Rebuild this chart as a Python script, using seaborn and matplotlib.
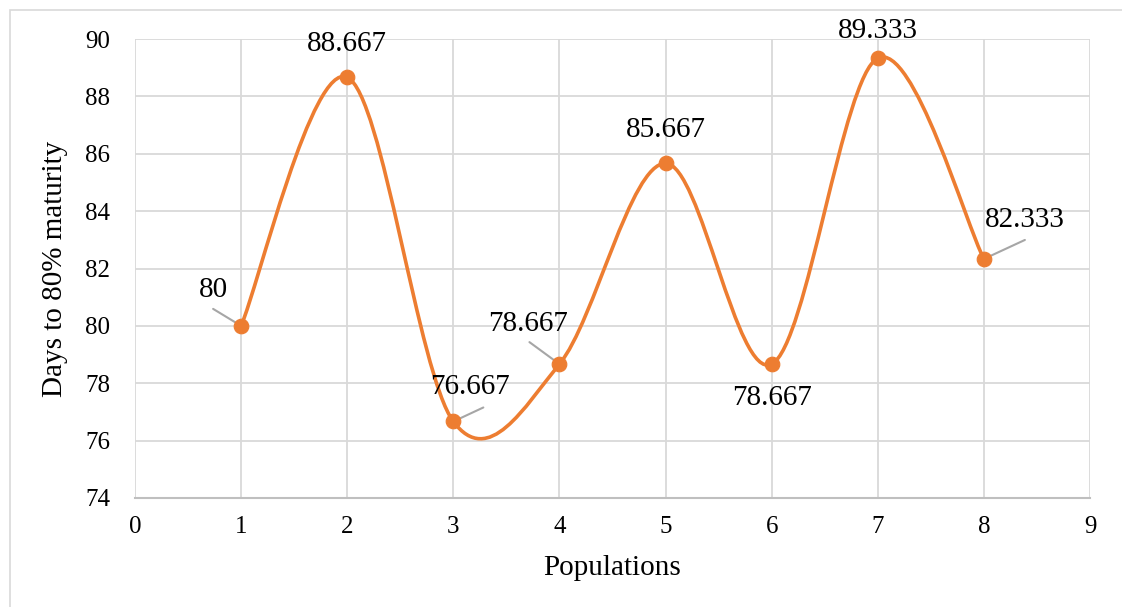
import numpy as np
import pandas as pd
import matplotlib
matplotlib.use("Agg")
import matplotlib.pyplot as plt
from matplotlib.path import Path
from matplotlib.patches import PathPatch, Rectangle
import seaborn as sns

# data
populations = [1, 2, 3, 4, 5, 6, 7, 8]
days = [80, 88.667, 76.667, 78.667, 85.667, 78.667, 89.333, 82.333]
labels = ["80", "88.667", "76.667", "78.667", "85.667", "78.667", "89.333", "82.333"]
# label offsets in pixels (dx, dy)
label_offsets = [(-28, 36), (0, 33), (17, 34), (-31, 40), (0, 33), (0, -34), (0, 27), (41, 39)]

df = pd.DataFrame({"Populations": populations, "Days": days})

sns.set_theme(style="white")
plt.rcParams["font.family"] = ["Liberation Serif", "DejaVu Serif"]

orange = "#ED7D31"

fig = plt.figure(figsize=(11.22, 6.07), dpi=100)
ax = fig.add_axes([135 / 1122, 109 / 607, 955 / 1122, 459 / 607])

# smoothed line (Excel-style bezier through the points)
x = np.array(populations, dtype=float)
y = np.array(days, dtype=float)
n = len(x)
verts = [(x[0], y[0])]
codes = [Path.MOVETO]
for i in range(n - 1):
    p0 = np.array([x[max(i - 1, 0)], y[max(i - 1, 0)]])
    p1 = np.array([x[i], y[i]])
    p2 = np.array([x[i + 1], y[i + 1]])
    p3 = np.array([x[min(i + 2, n - 1)], y[min(i + 2, n - 1)]])
    c1 = p1 + (p2 - p0) / 6
    c2 = p2 - (p3 - p1) / 6
    verts += [tuple(c1), tuple(c2), tuple(p2)]
    codes += [Path.CURVE4] * 3
ax.add_patch(PathPatch(Path(verts, codes), fill=False, edgecolor=orange, lw=2.6, zorder=3))

sns.scatterplot(data=df, x="Populations", y="Days", ax=ax, color=orange, s=110,
                edgecolor=orange, zorder=4, legend=False)

# data labels
for xi, yi, lab, (dx, dy) in zip(populations, days, labels, label_offsets):
    ax.annotate(lab, (xi, yi), xytext=(dx * 0.72, dy * 0.72), textcoords="offset points",
                ha="center", va="center", fontsize=21, color="black", zorder=5)

# leader lines (pixel offsets of the far end)
leader_ends = {0: (-28, 17), 2: (30, 14), 3: (-30, 22), 7: (41, 19)}
for i, (ex, ey) in leader_ends.items():
    ax.annotate("", (populations[i], days[i]), xytext=(ex * 0.72, ey * 0.72),
                textcoords="offset points",
                arrowprops=dict(arrowstyle="-", color="#A6A6A6", lw=1.5, shrinkA=0, shrinkB=0),
                zorder=3.5)

ax.set_xlim(0, 9)
ax.set_ylim(74, 90)
ax.set_xticks(range(0, 10))
ax.set_yticks(range(74, 91, 2))
ax.grid(True, color="#D9D9D9", lw=1.3)
ax.set_axisbelow(True)
for s in ["top", "right", "left"]:
    ax.spines[s].set_visible(False)
ax.spines["bottom"].set_color("#BFBFBF")
ax.spines["bottom"].set_linewidth(1.5)
ax.tick_params(axis="both", labelsize=18, length=0, colors="black")
ax.tick_params(axis="x", pad=13)
ax.tick_params(axis="y", pad=18)

ax.set_xlabel("Populations", fontsize=21, labelpad=12, color="black")
ax.set_ylabel("Days to 80% maturity", fontsize=21, labelpad=12, color="black")

# outer chart border
fig.patches.append(Rectangle((10 / 1122, -0.01), 1.02, 0.993, transform=fig.transFigure,
                             fill=False, edgecolor="#D9D9D9", lw=1.2))

fig.savefig("out.png", dpi=100)
